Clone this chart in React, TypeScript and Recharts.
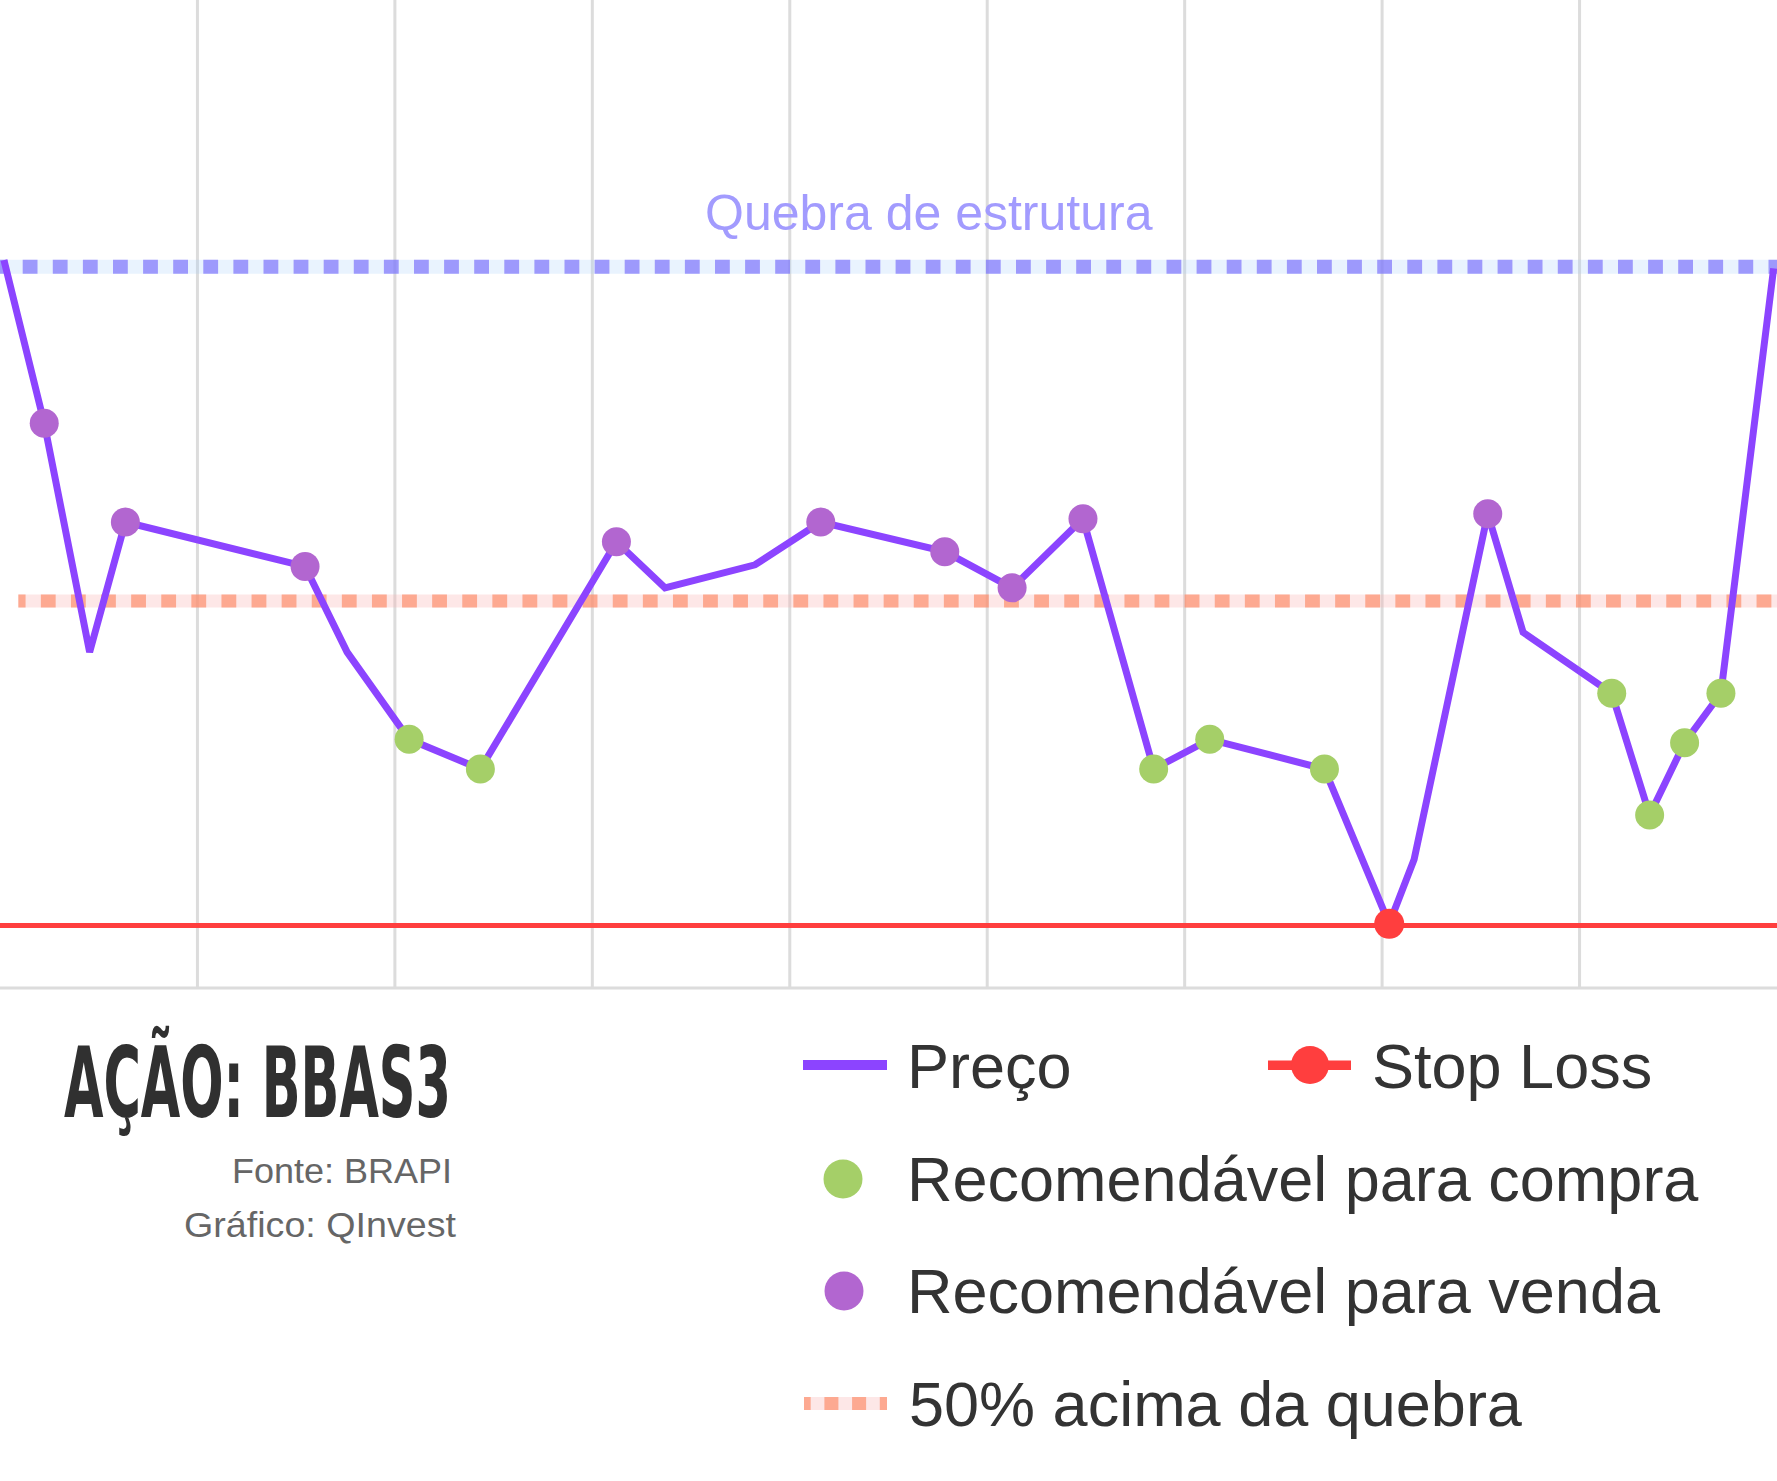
import React from 'react'
import {
  ComposedChart,
  Line,
  Scatter,
  XAxis,
  YAxis,
  CartesianGrid,
  ReferenceLine,
} from 'recharts'

// dias (eixo x) e preços
const days = [
  0.2, 2.24, 4.54, 6.35, 15.45, 17.58, 20.72, 24.33, 31.22, 33.68, 38.24, 41.57, 47.85, 51.26,
  54.85, 58.43, 61.27, 67.08, 70.36, 71.62, 75.35, 77.14, 81.63, 83.55, 85.32, 87.16, 89.83,
]
const prices = [
  30.04, 29.05, 27.66, 28.45, 28.18, 27.66, 27.13, 26.95, 28.33, 28.05, 28.19, 28.45, 28.27, 28.05,
  28.47, 26.95, 27.13, 26.95, 26.01, 26.4, 28.5, 27.78, 27.41, 26.67, 27.11, 27.41, 29.99,
]
// tipo de marcador em cada ponto
const kinds = [
  'none', 'sell', 'none', 'sell', 'sell', 'none', 'buy', 'buy', 'sell', 'none', 'none', 'sell',
  'sell', 'sell', 'sell', 'buy', 'buy', 'buy', 'stop', 'none', 'sell', 'none', 'buy', 'buy',
  'buy', 'buy', 'none',
]

const QUEBRA = 30.0
const METADE = 27.97
const STOP = 26.0
const X_DOMAIN: [number, number] = [0, 90]
const gridTicks = [10, 20, 30, 40, 50, 60, 70, 80]

const COLORS = {
  price: '#8c44ff',
  buy: '#a5cf68',
  sell: '#b266d0',
  stop: '#ff3e3e',
  quebra: '#a29bfe',
}

const data = days.map((x, i) => ({ x, price: prices[i], kind: kinds[i] }))
const buyPts = data.filter((d) => d.kind === 'buy')
const sellPts = data.filter((d) => d.kind === 'sell')
const stopPts = data.filter((d) => d.kind === 'stop')

const dotShape = (color: string, r: number) => (props: any) => (
  <circle cx={props.cx} cy={props.cy} r={r} fill={color} />
)

// linhas verticais da grade nos mesmos valores dos ticks
const gridX = (props: any) => {
  const scale = props?.xAxis?.scale
  if (scale && typeof scale === 'function') return gridTicks.map((t) => scale(t))
  const { left, width } = props.offset
  return gridTicks.map((t) => left + ((t - X_DOMAIN[0]) / (X_DOMAIN[1] - X_DOMAIN[0])) * width)
}

const textFont = '"Liberation Sans", Arial, Helvetica, sans-serif'

export default function App() {
  return (
    <div style={{
      position: 'absolute',
      left: 0,
      top: 0,
      width: 1777,
      height: 1481,
      background: '#ffffff',
      overflow: 'hidden',
      fontFamily: textFont,
    }}>
      <ComposedChart width={1777} height={992} data={data} margin={{ top: 0, right: 0, bottom: 0, left: 0 }}>
        <CartesianGrid
          horizontal={false}
          stroke="#dcdcdc"
          strokeWidth={3}
          verticalCoordinatesGenerator={gridX}
        />
        <XAxis
          dataKey="x"
          type="number"
          domain={X_DOMAIN}
          ticks={gridTicks}
          tick={false}
          tickLine={false}
          axisLine={{ stroke: '#dcdcdc', strokeWidth: 3 }}
          height={4}
        />
        <YAxis hide type="number" domain={[25.62, 31.62]} allowDataOverflow />

        {/* quebra de estrutura */}
        <ReferenceLine y={QUEBRA} stroke="#9fcdf9" strokeOpacity={0.23} strokeWidth={14} />
        <ReferenceLine
          y={QUEBRA}
          stroke="#7f76fb"
          strokeOpacity={0.72}
          strokeWidth={14}
          strokeDasharray="14.8 15.3"
          strokeDashoffset={7.4}
          label={(props: any) => {
            const vb = props.viewBox || { x: 0, y: 0 }
            return (
              <text
                x={vb.x + 705}
                y={vb.y - 37}
                fill={COLORS.quebra}
                fontSize={50}
                fontFamily={textFont}
              >
                Quebra de estrutura
              </text>
            )
          }}
        />

        {/* 50% acima da quebra */}
        <ReferenceLine
          segment={[{ x: 0.93, y: METADE }, { x: 90, y: METADE }]}
          stroke="#f9b0b0"
          strokeOpacity={0.3}
          strokeWidth={13}
        />
        <ReferenceLine
          segment={[{ x: 0.93, y: METADE }, { x: 90, y: METADE }]}
          stroke="#fc8f6c"
          strokeOpacity={0.7}
          strokeWidth={13}
          strokeDasharray="14.8 15.3"
          strokeDashoffset={7.6}
        />

        {/* stop loss */}
        <ReferenceLine y={STOP} stroke={COLORS.stop} strokeWidth={5} />

        <Line
          dataKey="price"
          type="linear"
          stroke={COLORS.price}
          strokeWidth={7}
          dot={false}
          activeDot={false}
          isAnimationActive={false}
        />
        <Scatter data={buyPts} dataKey="price" shape={dotShape(COLORS.buy, 14.5)} isAnimationActive={false} />
        <Scatter data={sellPts} dataKey="price" shape={dotShape(COLORS.sell, 14.5)} isAnimationActive={false} />
        <Scatter data={stopPts} dataKey="price" shape={dotShape(COLORS.stop, 15)} isAnimationActive={false} />
      </ComposedChart>

      {/* título, fontes e legenda */}
      <svg
        width={1777}
        height={1481}
        style={{ position: 'absolute', left: 0, top: 0, pointerEvents: 'none' }}
      >
        <text
          x={64}
          y={1117}
          fontFamily='"Liberation Sans Narrow", "DejaVu Sans Condensed", "Liberation Sans", sans-serif'
          fontWeight={700}
          fontSize={98}
          textLength={387}
          lengthAdjust="spacingAndGlyphs"
          fill="#303030"
        >
          AÇÃO: BBAS3
        </text>
        <text x={452} y={1183} textAnchor="end" fontSize={35} fill="#666666" fontFamily={textFont}
          textLength={220} lengthAdjust="spacingAndGlyphs">
          Fonte: BRAPI
        </text>
        <text x={456} y={1237} textAnchor="end" fontSize={35} fill="#666666" fontFamily={textFont}
          textLength={272} lengthAdjust="spacingAndGlyphs">
          Gráfico: QInvest
        </text>

        {/* Preço */}
        <rect x={803} y={1060} width={84} height={10} fill={COLORS.price} />
        <text x={907} y={1088} fontSize={63} fill="#333333" fontFamily={textFont}>Preço</text>

        {/* Stop Loss */}
        <rect x={1268} y={1060.5} width={83} height={9.5} fill={COLORS.stop} />
        <circle cx={1310} cy={1065} r={19} fill={COLORS.stop} />
        <text x={1372} y={1088} fontSize={63} fill="#333333" fontFamily={textFont}>Stop Loss</text>

        {/* compra */}
        <circle cx={843} cy={1179} r={19.5} fill={COLORS.buy} />
        <text x={907} y={1201} fontSize={63} fill="#333333" fontFamily={textFont}>Recomendável para compra</text>

        {/* venda */}
        <circle cx={844} cy={1291} r={19.5} fill={COLORS.sell} />
        <text x={907} y={1313} fontSize={63} fill="#333333" fontFamily={textFont}>Recomendável para venda</text>

        {/* 50% */}
        <line x1={804} y1={1403.5} x2={887} y2={1403.5} stroke="#f9b0b0" strokeOpacity={0.3} strokeWidth={13} />
        <line x1={804} y1={1403.5} x2={887} y2={1403.5} stroke="#fc8f6c" strokeOpacity={0.7} strokeWidth={13}
          strokeDasharray="14 13.7" strokeDashoffset={7.3} />
        <text x={909} y={1426} fontSize={63} fill="#333333" fontFamily={textFont}>50% acima da quebra</text>
      </svg>
    </div>
  )
}
